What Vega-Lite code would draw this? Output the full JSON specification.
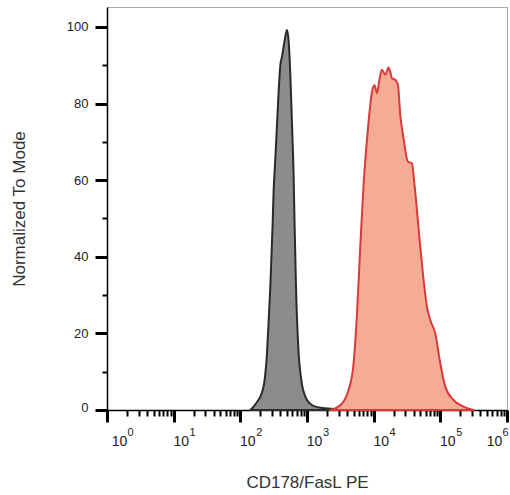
{
  "$schema": "https://vega.github.io/schema/vega-lite/v6.json",
  "width": 400,
  "height": 403,
  "autosize": {"type": "none"},
  "padding": {"left": 107, "top": 7, "right": 3, "bottom": 85},
  "background": "white",
  "config": {"view": {"stroke": "#aaaaaa", "strokeWidth": 1}, "font": "Liberation Sans"},
  "data": {"values": [
    {"sample": "Isotype control", "intensity": 141.3, "count": 0},
    {"sample": "Isotype control", "intensity": 158.1, "count": 0.9},
    {"sample": "Isotype control", "intensity": 179.9, "count": 2.2},
    {"sample": "Isotype control", "intensity": 199.5, "count": 3.5},
    {"sample": "Isotype control", "intensity": 231.2, "count": 7.8},
    {"sample": "Isotype control", "intensity": 251.2, "count": 14.9},
    {"sample": "Isotype control", "intensity": 267.3, "count": 24},
    {"sample": "Isotype control", "intensity": 281.8, "count": 32.2},
    {"sample": "Isotype control", "intensity": 304.8, "count": 48.3},
    {"sample": "Isotype control", "intensity": 315.5, "count": 57},
    {"sample": "Isotype control", "intensity": 335.0, "count": 65.7},
    {"sample": "Isotype control", "intensity": 354.8, "count": 74.4},
    {"sample": "Isotype control", "intensity": 375.0, "count": 83},
    {"sample": "Isotype control", "intensity": 398.1, "count": 90},
    {"sample": "Isotype control", "intensity": 421.7, "count": 92.2},
    {"sample": "Isotype control", "intensity": 457.1, "count": 96},
    {"sample": "Isotype control", "intensity": 501.2, "count": 99.2},
    {"sample": "Isotype control", "intensity": 530.9, "count": 96.2},
    {"sample": "Isotype control", "intensity": 562.3, "count": 87.5},
    {"sample": "Isotype control", "intensity": 595.7, "count": 74.4},
    {"sample": "Isotype control", "intensity": 629.5, "count": 61.4},
    {"sample": "Isotype control", "intensity": 651.6, "count": 48.3},
    {"sample": "Isotype control", "intensity": 683.9, "count": 32.2},
    {"sample": "Isotype control", "intensity": 748.2, "count": 14.9},
    {"sample": "Isotype control", "intensity": 822.2, "count": 7.8},
    {"sample": "Isotype control", "intensity": 944.1, "count": 3.5},
    {"sample": "Isotype control", "intensity": 1188.5, "count": 1.3},
    {"sample": "Isotype control", "intensity": 1678.8, "count": 0.5},
    {"sample": "Isotype control", "intensity": 2371.4, "count": 0.3},
    {"sample": "Isotype control", "intensity": 3349.7, "count": 0},
    {"sample": "CD178/FasL PE", "intensity": 2233.6, "count": 0},
    {"sample": "CD178/FasL PE", "intensity": 2654.6, "count": 0.4},
    {"sample": "CD178/FasL PE", "intensity": 3539.9, "count": 2.2},
    {"sample": "CD178/FasL PE", "intensity": 4207.3, "count": 5.2},
    {"sample": "CD178/FasL PE", "intensity": 5000.3, "count": 12.2},
    {"sample": "CD178/FasL PE", "intensity": 5623.4, "count": 25.2},
    {"sample": "CD178/FasL PE", "intensity": 6295.1, "count": 42.6},
    {"sample": "CD178/FasL PE", "intensity": 7063.2, "count": 59},
    {"sample": "CD178/FasL PE", "intensity": 8394.6, "count": 75.3},
    {"sample": "CD178/FasL PE", "intensity": 9440.6, "count": 83.1},
    {"sample": "CD178/FasL PE", "intensity": 10304, "count": 84.8},
    {"sample": "CD178/FasL PE", "intensity": 11194, "count": 82.7},
    {"sample": "CD178/FasL PE", "intensity": 12134, "count": 86},
    {"sample": "CD178/FasL PE", "intensity": 13305, "count": 88.8},
    {"sample": "CD178/FasL PE", "intensity": 14928, "count": 87.5},
    {"sample": "CD178/FasL PE", "intensity": 16711, "count": 89.4},
    {"sample": "CD178/FasL PE", "intensity": 17742, "count": 88.3},
    {"sample": "CD178/FasL PE", "intensity": 18793, "count": 86.6},
    {"sample": "CD178/FasL PE", "intensity": 21086, "count": 86.2},
    {"sample": "CD178/FasL PE", "intensity": 23121, "count": 84.9},
    {"sample": "CD178/FasL PE", "intensity": 25061, "count": 77},
    {"sample": "CD178/FasL PE", "intensity": 28054, "count": 70.9},
    {"sample": "CD178/FasL PE", "intensity": 32659, "count": 64.8},
    {"sample": "CD178/FasL PE", "intensity": 37497, "count": 64.4},
    {"sample": "CD178/FasL PE", "intensity": 41020, "count": 58.7},
    {"sample": "CD178/FasL PE", "intensity": 50003, "count": 42.6},
    {"sample": "CD178/FasL PE", "intensity": 62951, "count": 27},
    {"sample": "CD178/FasL PE", "intensity": 70632, "count": 23.5},
    {"sample": "CD178/FasL PE", "intensity": 83946, "count": 20},
    {"sample": "CD178/FasL PE", "intensity": 99770, "count": 12.2},
    {"sample": "CD178/FasL PE", "intensity": 118304, "count": 6.1},
    {"sample": "CD178/FasL PE", "intensity": 157761, "count": 2.6},
    {"sample": "CD178/FasL PE", "intensity": 222844, "count": 0.9},
    {"sample": "CD178/FasL PE", "intensity": 314775, "count": 0}
  ]},
  "layer": [
    {
      "mark": {"type": "area", "interpolate": "monotone", "strokeWidth": 2, "fillOpacity": 1, "strokeJoin": "round"},
      "encoding": {
        "x": {
          "field": "intensity", "type": "quantitative",
          "scale": {"type": "log", "domain": [1, 1000000], "nice": false},
          "axis": {
            "orient": "bottom",
            "title": "CD178/FasL PE",
            "titleFontSize": 17, "titleFontWeight": "normal", "titleColor": "#333333", "titlePadding": 26,
            "values": [1,2,3,4,5,6,7,8,9,10,20,30,40,50,60,70,80,90,100,200,300,400,500,600,700,800,900,1000,2000,3000,4000,5000,6000,7000,8000,9000,10000,20000,30000,40000,50000,60000,70000,80000,90000,100000,200000,300000,400000,500000,600000,700000,800000,900000,1000000],
            "labelExpr": "indexof([1,10,100,1000,10000,100000,1000000], datum.value) >= 0 ? '10' : ''",
            "labelFontSize": 14, "labelColor": "#222222", "labelPadding": 12,
            "labelOffset": {"condition": [{"test": "datum.value == 1", "value": 12}, {"test": "datum.value >= 1000000", "value": -13}], "value": 7},
            "labelOverlap": false, "labelBound": false, "labelFlush": false,
            "tickSize": {"condition": {"test": "indexof([1,10,100,1000,10000,100000,1000000], datum.value) >= 0", "value": 12}, "value": 6},
            "tickWidth": {"condition": {"test": "indexof([1,10,100,1000,10000,100000,1000000], datum.value) >= 0", "value": 3}, "value": 2},
            "tickColor": "#000000", "domainColor": "#000000", "domainWidth": 1.5, "grid": false
          }
        },
        "y": {
          "field": "count", "type": "quantitative", "stack": null,
          "scale": {"domain": [0, 105.2], "nice": false},
          "axis": {
            "title": "Normalized To Mode",
            "titleFontSize": 17, "titleFontWeight": "normal", "titleColor": "#333333", "titlePadding": 38,
            "values": [0,5,10,15,20,25,30,35,40,45,50,55,60,65,70,75,80,85,90,95,100],
            "labelExpr": "datum.value % 20 === 0 ? datum.label : ''",
            "labelFontSize": 13, "labelColor": "#222222", "labelPadding": 7,
            "labelOffset": {"condition": {"test": "datum.value == 0", "value": -3}, "value": 0},
            "labelOverlap": false, "labelBound": false, "labelFlush": false,
            "tickSize": {"condition": {"test": "datum.value % 20 === 0", "value": 12}, "value": 5},
            "tickWidth": {"condition": {"test": "datum.value % 20 === 0", "value": 3}, "value": 2},
            "tickColor": "#000000", "domainColor": "#000000", "domainWidth": 1.5, "grid": false
          }
        },
        "fill": {
          "field": "sample", "type": "nominal",
          "scale": {"domain": ["Isotype control", "CD178/FasL PE"], "range": ["#8e8b8b", "#f6ab97"]},
          "legend": null
        },
        "stroke": {
          "field": "sample", "type": "nominal",
          "scale": {"domain": ["Isotype control", "CD178/FasL PE"], "range": ["#2a2a2a", "#d83a3a"]},
          "legend": null
        }
      }
    },
    {
      "mark": {"type": "point", "opacity": 0},
      "encoding": {
        "x": {
          "field": "intensity", "type": "quantitative",
          "axis": {
            "orient": "bottom",
            "title": null,
            "values": [1,10,100,1000,10000,100000,1000000],
            "labelExpr": "['0','1','2','3','4','5','6'][indexof([1,10,100,1000,10000,100000,1000000], datum.value)]",
            "labelFontSize": 11, "labelColor": "#222222", "labelPadding": 4,
            "labelOffset": {"condition": [{"test": "datum.value == 1", "value": 23}, {"test": "datum.value >= 1000000", "value": -2}], "value": 18.5},
            "labelOverlap": false, "labelBound": false, "labelFlush": false,
            "tickSize": 12, "tickColor": "transparent", "domain": false, "grid": false
          }
        },
        "y": {"field": "count", "type": "quantitative", "stack": null}
      }
    }
  ],
  "resolve": {"axis": {"x": "independent"}}
}
